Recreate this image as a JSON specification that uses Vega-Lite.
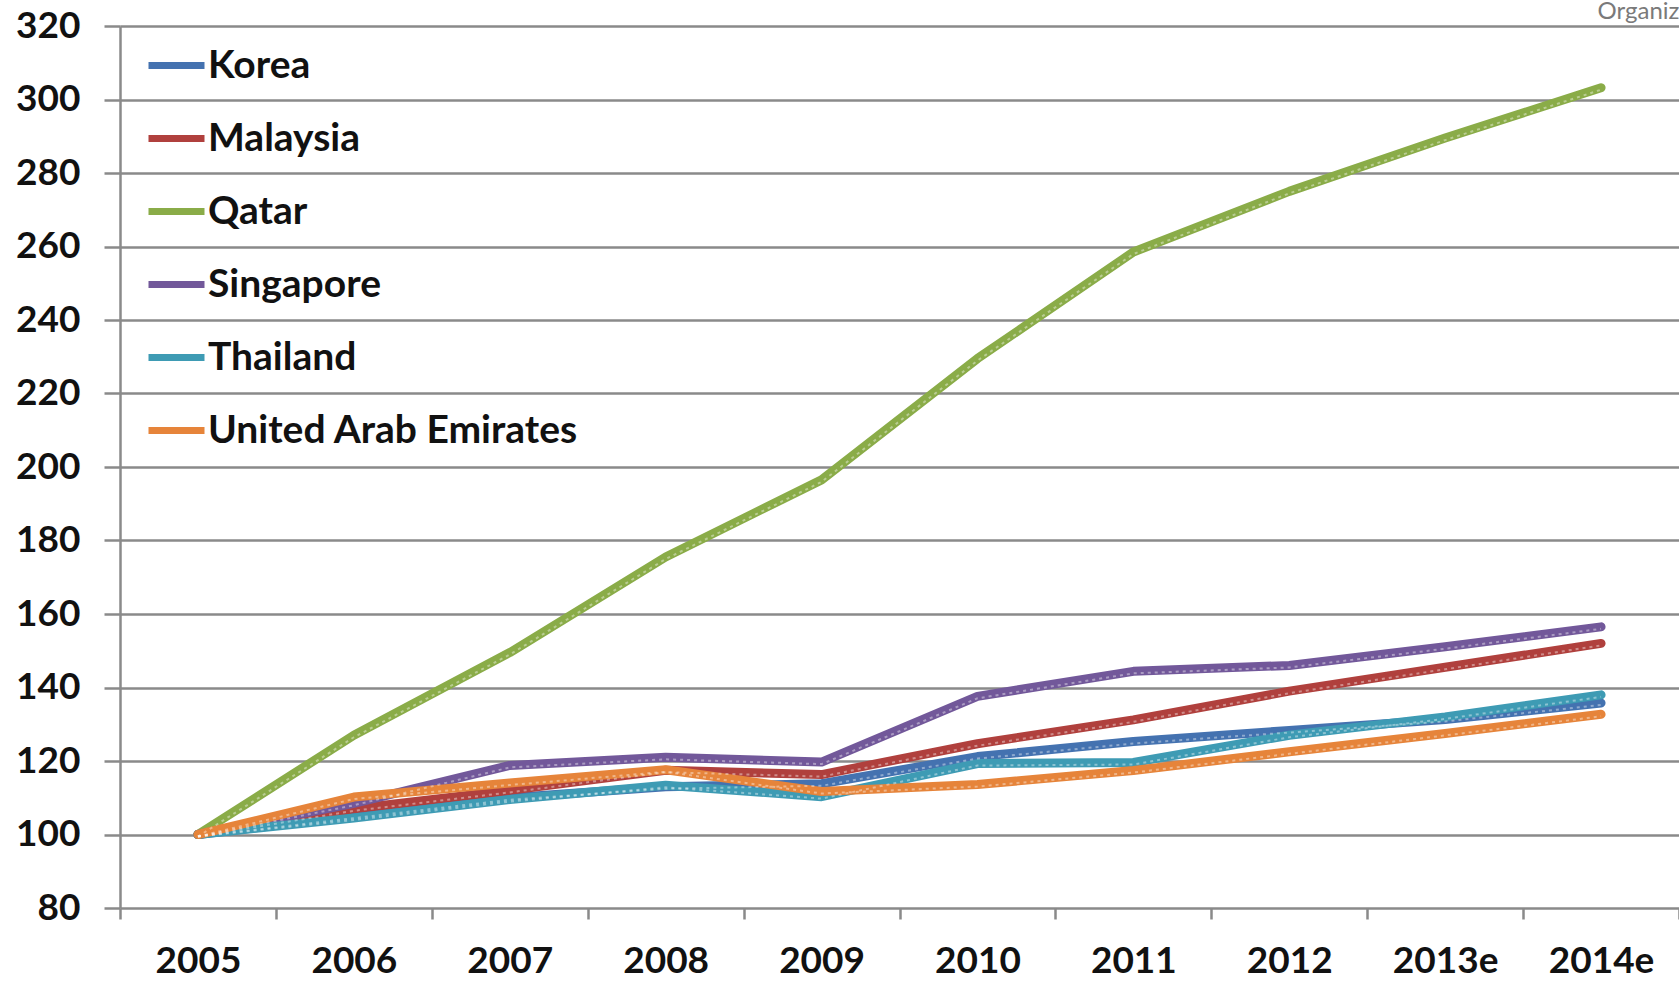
{
  "$schema": "https://vega.github.io/schema/vega-lite/v6.json",
  "autosize": {"type": "none"},
  "padding": {"left": 120, "top": 26, "right": 0, "bottom": 74},
  "width": 1559,
  "height": 882,
  "background": "white",
  "title": {"text": "Organization", "anchor": "start", "dx": 1582, "dy": 17, "offset": 0, "fontSize": 24, "font": "Lato", "fontWeight": "normal", "color": "#7a7a7a"},
  "data": {"values": [
    {"year": "2005", "country": "Korea", "value": 100},
    {"year": "2006", "country": "Korea", "value": 105},
    {"year": "2007", "country": "Korea", "value": 110},
    {"year": "2008", "country": "Korea", "value": 113},
    {"year": "2009", "country": "Korea", "value": 113.8},
    {"year": "2010", "country": "Korea", "value": 121.2},
    {"year": "2011", "country": "Korea", "value": 125.3},
    {"year": "2012", "country": "Korea", "value": 128.3},
    {"year": "2013e", "country": "Korea", "value": 131.3},
    {"year": "2014e", "country": "Korea", "value": 135.8},
    {"year": "2005", "country": "Malaysia", "value": 100},
    {"year": "2006", "country": "Malaysia", "value": 107},
    {"year": "2007", "country": "Malaysia", "value": 112},
    {"year": "2008", "country": "Malaysia", "value": 117.5},
    {"year": "2009", "country": "Malaysia", "value": 116.3},
    {"year": "2010", "country": "Malaysia", "value": 124.7},
    {"year": "2011", "country": "Malaysia", "value": 131.2},
    {"year": "2012", "country": "Malaysia", "value": 139},
    {"year": "2013e", "country": "Malaysia", "value": 145.5},
    {"year": "2014e", "country": "Malaysia", "value": 152},
    {"year": "2005", "country": "Qatar", "value": 100},
    {"year": "2006", "country": "Qatar", "value": 127},
    {"year": "2007", "country": "Qatar", "value": 149.5},
    {"year": "2008", "country": "Qatar", "value": 175.5},
    {"year": "2009", "country": "Qatar", "value": 196.5},
    {"year": "2010", "country": "Qatar", "value": 229.5},
    {"year": "2011", "country": "Qatar", "value": 258.5},
    {"year": "2012", "country": "Qatar", "value": 275},
    {"year": "2013e", "country": "Qatar", "value": 289.5},
    {"year": "2014e", "country": "Qatar", "value": 303.2},
    {"year": "2005", "country": "Singapore", "value": 100},
    {"year": "2006", "country": "Singapore", "value": 108.5},
    {"year": "2007", "country": "Singapore", "value": 118.8},
    {"year": "2008", "country": "Singapore", "value": 121},
    {"year": "2009", "country": "Singapore", "value": 119.7},
    {"year": "2010", "country": "Singapore", "value": 137.6},
    {"year": "2011", "country": "Singapore", "value": 144.4},
    {"year": "2012", "country": "Singapore", "value": 146},
    {"year": "2013e", "country": "Singapore", "value": 151.1},
    {"year": "2014e", "country": "Singapore", "value": 156.5},
    {"year": "2005", "country": "Thailand", "value": 100},
    {"year": "2006", "country": "Thailand", "value": 104.5},
    {"year": "2007", "country": "Thailand", "value": 109.5},
    {"year": "2008", "country": "Thailand", "value": 113.4},
    {"year": "2009", "country": "Thailand", "value": 110.3},
    {"year": "2010", "country": "Thailand", "value": 119.3},
    {"year": "2011", "country": "Thailand", "value": 119.6},
    {"year": "2012", "country": "Thailand", "value": 127},
    {"year": "2013e", "country": "Thailand", "value": 132},
    {"year": "2014e", "country": "Thailand", "value": 138},
    {"year": "2005", "country": "United Arab Emirates", "value": 100},
    {"year": "2006", "country": "United Arab Emirates", "value": 110.2},
    {"year": "2007", "country": "United Arab Emirates", "value": 114},
    {"year": "2008", "country": "United Arab Emirates", "value": 117.6},
    {"year": "2009", "country": "United Arab Emirates", "value": 111.7},
    {"year": "2010", "country": "United Arab Emirates", "value": 113.6},
    {"year": "2011", "country": "United Arab Emirates", "value": 117.4},
    {"year": "2012", "country": "United Arab Emirates", "value": 122.5},
    {"year": "2013e", "country": "United Arab Emirates", "value": 127.5},
    {"year": "2014e", "country": "United Arab Emirates", "value": 132.7}
  ]},
  "config": {
    "view": {"stroke": null},
    "axis": {"labelFont": "Lato", "labelFontWeight": "bold", "labelColor": "#111111", "labelFontSize": 37}
  },
  "encoding": {
    "x": {"field": "year", "type": "ordinal", "sort": null, "bandPosition": 0.5,
      "scale": {"type": "band", "paddingInner": 0, "paddingOuter": 0},
      "axis": {"title": null, "labelAngle": 0, "tickBand": "extent", "tickSize": 11, "tickWidth": 2.5, "tickColor": "#8a8a8a", "domain": false, "grid": false, "labelPadding": 24, "labelBaseline": "top"}},
    "y": {"field": "value", "type": "quantitative",
      "scale": {"domain": [80, 320], "nice": false, "zero": false},
      "axis": {"title": null, "values": [80,100,120,140,160,180,200,220,240,260,280,300,320], "tickSize": 16, "tickWidth": 2.5, "tickColor": "#8a8a8a", "grid": true, "gridColor": "#8a8a8a", "gridWidth": 2.5, "gridOpacity": 1, "domainColor": "#8a8a8a", "domainWidth": 2.5, "labelPadding": 24}},
    "color": {"field": "country", "type": "nominal",
      "scale": {"domain": ["Korea", "Malaysia", "Qatar", "Singapore", "Thailand", "United Arab Emirates"],
                "range": ["#4472b0", "#b0403d", "#8aac48", "#72589a", "#3e9bb4", "#e6843a"]},
      "legend": {"title": null, "orient": "none", "legendX": 25, "legendY": 8, "symbolType": "stroke", "symbolSize": 3136, "symbolStrokeWidth": 7, "labelFont": "Lato", "labelFontWeight": "bold", "labelFontSize": 39, "labelColor": "#111111", "labelOffset": 0, "rowPadding": 21, "labelLimit": 700}}
  },
  "layer": [
    {"mark": {"type": "line", "strokeWidth": 9, "strokeCap": "round", "strokeJoin": "round"}},
    {"mark": {"type": "line", "strokeWidth": 2, "strokeDash": [3, 4], "color": "white", "opacity": 0.4, "yOffset": 2}, "encoding": {"color": {"value": "white"}, "detail": {"field": "country"}}}
  ]
}
